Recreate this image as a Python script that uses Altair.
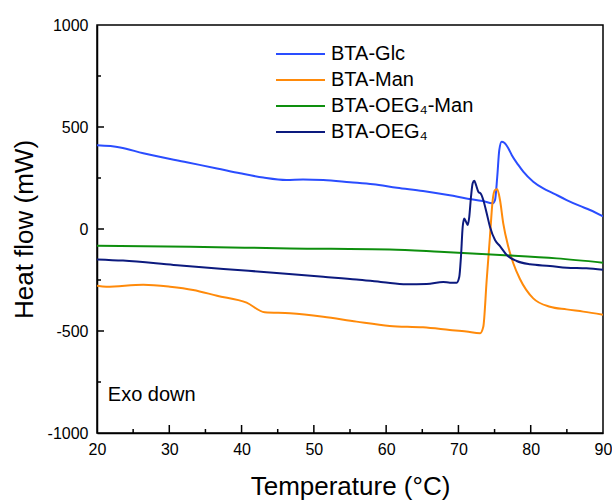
import altair as alt
import pandas as pd

series_names = ["BTA-Glc", "BTA-Man", "BTA-OEG₄-Man", "BTA-OEG₄"]
series_colors = ["#2A4DFF", "#FF8A0A", "#0E8F0E", "#0C1A7E"]

glc_T = [20, 23.2, 26.4, 32.4, 36.6, 39.8, 43.0, 46.2, 48.5, 51.3, 55.0, 58.2, 61.5, 65.1, 68.8,
         71.1, 73.4, 74.7, 75.06, 75.37, 75.65, 75.98, 76.34, 76.9, 77.37, 78.28, 78.97, 80.35,
         81.74, 83.12, 84.97, 86.81, 88.2, 90]
glc_v = [410, 400, 371, 327, 297, 273, 252, 240, 243, 240, 229, 219, 202, 186, 165,
         150, 137, 126, 142, 256, 387, 428, 423, 396, 363, 314, 281, 232,
         199, 175, 142, 113, 93, 62]

man_T = [20, 21.3, 26.4, 30.1, 33.3, 36.6, 40.7, 43.2, 46.7, 51.3, 55.9, 60.5, 65.1, 68.8, 71.1,
         73.0, 73.44, 73.91, 74.36, 74.74, 75.06, 75.37, 75.75, 76.2, 76.9, 77.59, 78.51, 80.35,
         82.66, 84.97, 87.27, 90]
man_v = [-278, -283, -273, -283, -299, -327, -361, -408, -413, -430, -454, -475, -482, -495, -503,
         -511, -479, -250, -38, 142, 191, 195, 142, 28, -87, -168, -245, -340,
         -381, -394, -405, -420]

oegman_T = [20, 32.9, 46.7, 60.5, 67.4, 75.75, 83.6, 90]
oegman_v = [-82, -87, -95, -100, -111, -127, -144, -165]

oeg_T = [20, 23.6, 30.6, 37.5, 44.4, 51.3, 55.9, 59.6, 62.8, 65.6, 67.9, 68.83, 69.76, 70.12,
         70.35, 70.59, 70.81, 71.04, 71.28, 71.5, 71.74, 71.97, 72.19, 72.43, 72.75, 73.12,
         73.44, 73.91, 74.36, 75.06, 75.75, 76.67, 78.06, 79.9, 82.66, 85.0, 87.7, 90]
oeg_v = [-149, -155, -176, -196, -214, -234, -247, -261, -271, -270, -260, -263, -263, -234,
         -136, 11, 52, 36, 20, 60, 158, 224, 237, 216, 183, 172,
         142, 77, 11, -54, -84, -127, -157, -173, -181, -190, -193, -200]

x_labels = [20, 30, 40, 50, 60, 70, 80, 90]
x_major_ticks = [30, 40, 50, 60, 70, 80]
x_minor_ticks = [25, 35, 45, 55, 65, 75, 85]
y_labels = [-1000, -500, 0, 500, 1000]
y_major_ticks = [-500, 0, 500]
y_minor_ticks = [-750, -250, 250, 750]

note_T = [21.5]
note_v = [-814]
note_text = ["Exo down"]

rows = []
for name, Ts, vs in zip(series_names, [glc_T, man_T, oegman_T, oeg_T], [glc_v, man_v, oegman_v, oeg_v]):
    for i, (t, v) in enumerate(zip(Ts, vs)):
        rows.append({"series": name, "T": t, "v": v, "i": i})
df = pd.DataFrame(rows)
note_df = pd.DataFrame({"T": note_T, "v": note_v, "label": note_text})

W, H = 506, 408
FONT = "Liberation Sans"
xscale = alt.Scale(domain=[20, 90], nice=False, zero=False)
yscale = alt.Scale(domain=[-1000, 1000], nice=False, zero=False)

lines = alt.Chart(df).mark_line(strokeWidth=2, clip=True, interpolate="monotone").encode(
    x=alt.X("T:Q", scale=xscale, axis=alt.Axis(
        values=x_labels, ticks=False, tickSize=0, labelPadding=8, labelFontSize=16,
        labelFlush=False, grid=False, domainColor="black", domainWidth=1.5,
        title="Temperature (°C)", titleFontSize=26, titleFontWeight="normal",
        titleY=53, titleBaseline="middle")),
    y=alt.Y("v:Q", scale=yscale, axis=alt.Axis(
        values=y_labels, ticks=False, tickSize=0, labelPadding=9, labelFontSize=16,
        labelExpr="'' + datum.value", grid=False, domainColor="black", domainWidth=1.5,
        title="Heat flow (mW)", titleFontSize=26, titleFontWeight="normal",
        titleX=-73, titleY=H / 2, titleBaseline="middle")),
    color=alt.Color("series:N", scale=alt.Scale(domain=series_names, range=series_colors),
                    legend=alt.Legend(orient="none", legendX=178, legendY=16, title=None,
                                      symbolType="stroke", symbolSize=2401, symbolStrokeWidth=2,
                                      labelFontSize=20, labelOffset=5, clipHeight=26,
                                      padding=0, rowPadding=0, labelColor="black", labelFont=FONT)),
    order="i:Q",
)


def xtick_layer(vals, size):
    d = pd.DataFrame({"t": vals})
    return alt.Chart(d).mark_rule(color="black", strokeWidth=1.5).encode(
        x=alt.X("t:Q", scale=xscale, axis=None),
        y=alt.value(H), y2=alt.value(H - size))


def ytick_layer(vals, size):
    d = pd.DataFrame({"t": vals})
    return alt.Chart(d).mark_rule(color="black", strokeWidth=1.5).encode(
        y=alt.Y("t:Q", scale=yscale, axis=None),
        x=alt.value(0), x2=alt.value(size))


note = alt.Chart(note_df).mark_text(align="left", baseline="middle", fontSize=20, font=FONT,
                                     color="black").encode(
    x=alt.X("T:Q", scale=xscale, axis=None),
    y=alt.Y("v:Q", scale=yscale, axis=None),
    text="label:N",
)

chart = alt.layer(
    lines,
    xtick_layer(x_major_ticks, 8), xtick_layer(x_minor_ticks, 4),
    ytick_layer(y_major_ticks, 7), ytick_layer(y_minor_ticks, 4),
    note,
).resolve_axis(x="independent", y="independent").properties(
    width=W, height=H,
    autosize=alt.AutoSizeParams(type="none"),
    padding={"left": 97, "top": 25, "right": 9, "bottom": 67},
    background="white",
).configure_view(stroke="black", strokeWidth=1.5).configure_axis(
    labelFont=FONT, titleFont=FONT, labelColor="black", titleColor="black"
).configure_text(font=FONT)

chart.save("out.html", embed_options={"renderer": "svg", "actions": False})
